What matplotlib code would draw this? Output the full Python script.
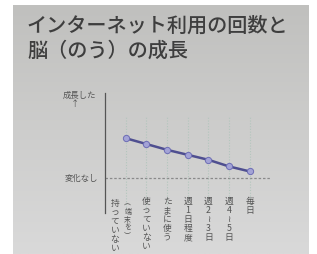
import matplotlib
matplotlib.use("Agg")
import matplotlib.pyplot as plt
import numpy as np
from matplotlib.colors import LinearSegmentedColormap

plt.rcParams['font.family'] = ['Noto Sans CJK JP', 'DejaVu Sans']

title_lines = ["インターネット利用の回数と", "脳（のう）の成長"]
categories = ["（端末を）持っていない", "使っていない", "たまに使う", "週1日程度", "週2〜3日", "週4〜5日", "毎日"]
growth = [0.48, 0.41, 0.34, 0.28, 0.22, 0.14, 0.08]
y_top_label = "成長した"
y_base_label = "変化なし"

W, H = 317, 254
fig = plt.figure(figsize=(W / 100, H / 100), dpi=100, facecolor="white")

# photo-like gray background
bg = fig.add_axes([13 / W, 0, 296 / W, 249 / H], zorder=-5)
grad = np.linspace(0, 1, 100).reshape(-1, 1)
cmap = LinearSegmentedColormap.from_list("bg", ["#c0c0be", "#cdcdcc", "#d9d9d9"])
bg.imshow(grad, aspect="auto", cmap=cmap, extent=[0, 1, 0, 1])
bg.set_axis_off()

# title
for k, line in enumerate(title_lines):
    fig.text(27 / W, 1 - (26 + 25 * k) / H, line, fontsize=14.5, color="#3e3e3e",
             fontweight="medium", va="center", ha="left")

ax = fig.add_axes([105 / W, 41 / H, 165.5 / W, 120 / H])
ax.patch.set_alpha(0)
n = len(categories)
x = np.arange(n)
ax.set_xlim(-1, 7)
ax.set_ylim(-0.42, 1.024)
for s in ["top", "right", "bottom"]:
    ax.spines[s].set_visible(False)
ax.spines["left"].set_color("#555555")
ax.spines["left"].set_linewidth(0.9)
ax.set_xticks([])
ax.set_yticks([])

# baseline
ax.axhline(0, color="#8a8a8a", lw=0.9, ls=(0, (2, 1.5)), zorder=1)
# vertical dotted guides
for xi in x:
    ax.plot([xi, xi], [-0.38, 0.74], color="#b3c6bd", lw=0.8, ls=(0, (1, 1.5)), zorder=1)

ax.plot(x, growth, color="#4f4f90", lw=1.8, zorder=3,
        marker="o", markersize=4.5, markerfacecolor="#a3a3d6", markeredgecolor="#6d6db5",
        markeredgewidth=0.7)

# y labels
lab_color = "#555555"
ax.text(-1.42, 1.0, y_top_label, fontsize=6, color=lab_color,
        ha="right", va="center", clip_on=False)
ax.text(-2.45, 0.9, "↑", fontsize=6, color=lab_color, ha="center", va="center",
        clip_on=False)
ax.text(-1.35, 0.0, y_base_label, fontsize=6, color=lab_color, ha="right", va="center",
        clip_on=False)

# vertical category labels
def vert(s):
    rep = {"（": "︵", "）": "︶", "〜": "≀"}
    return "\n".join(rep.get(c, c) for c in s)

label_y = -0.23
for i, cat in enumerate(categories):
    if cat.startswith("（"):
        close = cat.index("）") + 1
        part1, part2 = cat[:close], cat[close:]
        ax.text(i + 0.1, label_y - 0.03, vert(part1), fontsize=5, color=lab_color,
                ha="center", va="top", linespacing=1.0, clip_on=False)
        ax.text(i - 0.52, label_y - 0.02, vert(part2), fontsize=6.3, color=lab_color,
                ha="center", va="top", linespacing=1.0, clip_on=False)
    else:
        ax.text(i, label_y, vert(cat), fontsize=6.3, color=lab_color,
                ha="center", va="top", linespacing=1.0, clip_on=False)

fig.savefig("out.png", dpi=100, facecolor="white")
